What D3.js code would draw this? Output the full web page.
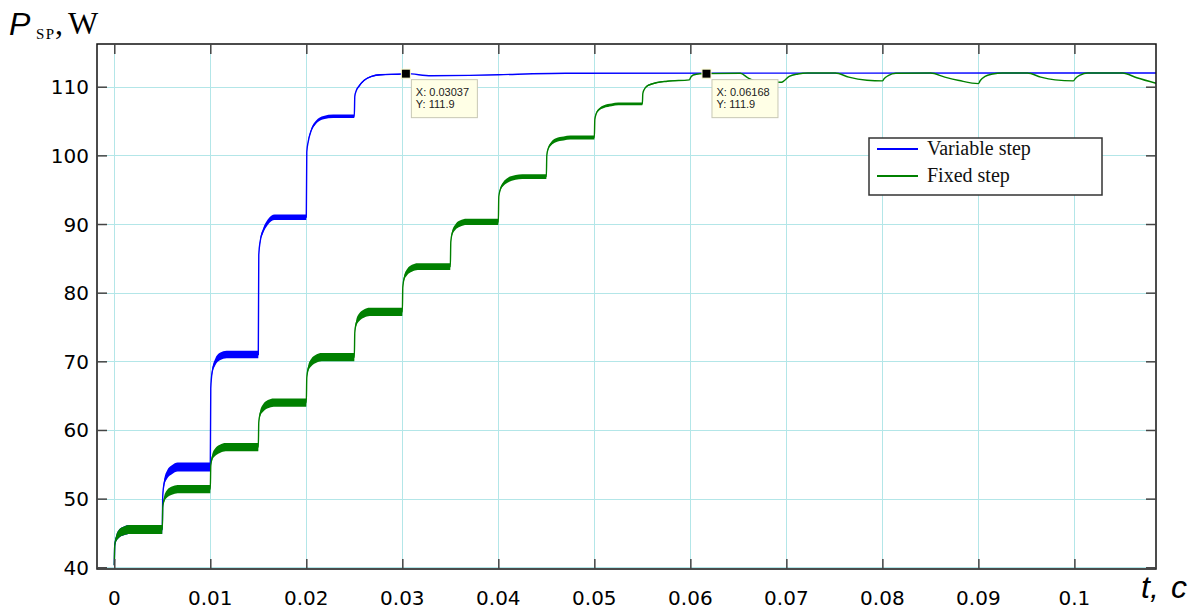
<!DOCTYPE html>
<html>
<head>
<meta charset="utf-8">
<script src="https://cdn.jsdelivr.net/npm/d3@7/dist/d3.min.js"></script>
<style>
  html, body { margin: 0; padding: 0; background: #fff; }
  svg { display: block; }
</style>
</head>
<body>
<svg id="chart" width="1198" height="612"></svg>
<script>
// ---------------- DATA ----------------
const xTicks = [0, 0.01, 0.02, 0.03, 0.04, 0.05, 0.06, 0.07, 0.08, 0.09, 0.1];
const xTickLabels = ["0", "0.01", "0.02", "0.03", "0.04", "0.05", "0.06", "0.07", "0.08", "0.09", "0.1"];
const yTicks = [40, 50, 60, 70, 80, 90, 100, 110];
const yTickLabels = ["40", "50", "60", "70", "80", "90", "100", "110"];
const seriesNames = ["Variable step", "Fixed step"];

// [t (s), P_SP (W), ripple half-width (W)]
const variableStep = [
  [0, 40.3, 0], [0.00005, 43.2, 0], [0.0002, 44.2, 0.45], [0.0005, 44.9, 0.6], [0.001, 45.3, 0.65], [0.0016, 45.5, 0.65], [0.005, 45.5, 0.65],
  [0.00505, 50.5, 0], [0.0052, 52.3, 0.45], [0.0055, 53.5, 0.6], [0.006, 54.2, 0.65], [0.0066, 54.6, 0.65], [0.010, 54.6, 0.65],
  [0.01005, 66.1, 0], [0.0102, 68.5, 0.35], [0.0105, 69.85, 0.5], [0.011, 70.7, 0.55], [0.0117, 71.0, 0.55], [0.015, 71.0, 0.55],
  [0.01505, 85.5, 0], [0.0152, 87.5, 0.25], [0.0155, 89.0, 0.35], [0.016, 90.3, 0.4], [0.0167, 91.0, 0.4], [0.020, 91.0, 0.4],
  [0.02005, 100.5, 0], [0.0202, 102.0, 0.1], [0.0205, 103.6, 0.2], [0.021, 104.8, 0.25], [0.0218, 105.5, 0.25], [0.0228, 105.7, 0.25], [0.025, 105.7, 0.25],
  [0.02505, 108.6, 0], [0.0252, 109.4, 0.05], [0.0255, 110.1, 0.1], [0.026, 110.9, 0.1], [0.0268, 111.5, 0.1], [0.0277, 111.75, 0.1], [0.0300, 111.85, 0.05],
  [0.0304, 111.9, 0], [0.033, 111.6, 0], [0.037, 111.65, 0], [0.040, 111.75, 0], [0.047, 111.95, 0], [0.1085, 112.0, 0]
];

const fixedStep = [
  [0, 40.3, 0], [0.00005, 43.2, 0], [0.0002, 44.2, 0.45], [0.0005, 44.9, 0.6], [0.001, 45.3, 0.65], [0.0016, 45.5, 0.65], [0.005, 45.5, 0.65],
  [0.00505, 48.75, 0], [0.0052, 49.9, 0.4], [0.0055, 50.7, 0.55], [0.006, 51.15, 0.6], [0.0066, 51.4, 0.6], [0.010, 51.4, 0.6],
  [0.01005, 54.75, 0], [0.0102, 56.0, 0.4], [0.0105, 56.75, 0.55], [0.011, 57.25, 0.6], [0.0116, 57.5, 0.6], [0.015, 57.5, 0.6],
  [0.01505, 61.1, 0], [0.0152, 62.4, 0.4], [0.0155, 63.2, 0.55], [0.016, 63.75, 0.6], [0.0166, 64.0, 0.6], [0.020, 64.0, 0.6],
  [0.02005, 67.6, 0], [0.0202, 68.95, 0.4], [0.0205, 69.8, 0.55], [0.021, 70.35, 0.6], [0.0216, 70.6, 0.6], [0.025, 70.6, 0.6],
  [0.02505, 74.2, 0], [0.0252, 75.55, 0.4], [0.0255, 76.4, 0.55], [0.026, 76.95, 0.6], [0.0266, 77.2, 0.6], [0.030, 77.2, 0.6],
  [0.03005, 80.8, 0], [0.0302, 82.15, 0.35], [0.0305, 83.0, 0.45], [0.031, 83.55, 0.5], [0.0316, 83.8, 0.5], [0.035, 83.8, 0.5],
  [0.03505, 87.4, 0], [0.0352, 88.7, 0.3], [0.0355, 89.5, 0.4], [0.036, 90.05, 0.45], [0.0367, 90.3, 0.45], [0.040, 90.3, 0.45],
  [0.04005, 94.0, 0], [0.0402, 95.0, 0.2], [0.0405, 95.8, 0.3], [0.041, 96.4, 0.35], [0.0418, 96.8, 0.35], [0.0425, 96.9, 0.35], [0.045, 96.9, 0.35],
  [0.04505, 100.0, 0], [0.0452, 101.0, 0.15], [0.0455, 101.7, 0.25], [0.046, 102.2, 0.3], [0.0468, 102.45, 0.3], [0.0475, 102.6, 0.3], [0.050, 102.6, 0.3],
  [0.05005, 105.2, 0], [0.0502, 106.1, 0.1], [0.0505, 106.7, 0.15], [0.051, 107.1, 0.2], [0.0518, 107.35, 0.2], [0.0525, 107.5, 0.2], [0.055, 107.5, 0.2],
  [0.05505, 109.0, 0], [0.0552, 109.6, 0.05], [0.0555, 110.1, 0.1], [0.056, 110.4, 0.1], [0.0576, 110.8, 0.05], [0.0599, 111.0, 0],
  [0.06005, 111.4, 0], [0.0603, 111.7, 0], [0.0610, 111.88, 0], [0.0617, 111.9, 0], [0.0652, 111.95, 0],
  [0.0660, 111.3, 0], [0.0668, 110.8, 0], [0.0695, 110.65, 0], [0.0698, 110.9, 0], [0.0703, 111.5, 0], [0.0712, 111.85, 0], [0.0722, 112.0, 0],
  [0.0751, 112.0, 0], [0.0765, 111.4, 0], [0.0784, 110.95, 0], [0.0800, 110.85, 0], [0.0802, 111.2, 0], [0.0806, 111.6, 0], [0.0814, 111.95, 0],
  [0.0850, 112.0, 0], [0.0865, 111.4, 0], [0.0880, 110.9, 0], [0.0900, 110.45, 0], [0.0902, 110.9, 0], [0.0907, 111.5, 0], [0.0915, 111.85, 0], [0.0925, 112.0, 0],
  [0.0951, 112.0, 0], [0.0965, 111.4, 0], [0.0980, 111.0, 0], [0.0999, 110.85, 0], [0.1001, 111.2, 0], [0.1006, 111.7, 0], [0.1014, 112.0, 0],
  [0.1050, 112.0, 0], [0.1065, 111.3, 0], [0.1085, 110.5, 0]
];

// data tips: [t, P]
const dataTips = [[0.03037, 111.9], [0.06168, 111.9]];
const dataTipLabels = [["X: 0.03037", "Y: 111.9"], ["X: 0.06168", "Y: 111.9"]];

// ---------------- CHART ----------------
const svg = d3.select("#chart");
const L = 97, R = 1156, T = 44, B = 569;
const x = d3.scaleLinear().domain([-0.0018, 0.1085]).range([L, R]);
const y = d3.scaleLinear().domain([39.75, 116.22]).range([B, T]);
const gridColor = "#b3e6e8";
const colors = ["#0000ff", "#008000"];

svg.append("rect").attr("width", 1198).attr("height", 612).attr("fill", "#fff");

svg.append("clipPath").attr("id", "plotclip")
  .append("rect").attr("x", L).attr("y", T).attr("width", R - L).attr("height", B - T);

// grid
const grid = svg.append("g");
grid.selectAll("line.vx").data(xTicks).join("line")
  .attr("x1", d => Math.round(x(d)) + 0.5).attr("x2", d => Math.round(x(d)) + 0.5)
  .attr("y1", T).attr("y2", B).attr("stroke", gridColor).attr("stroke-width", 1);
grid.selectAll("line.hy").data(yTicks).join("line")
  .attr("y1", d => Math.round(y(d)) + 0.5).attr("y2", d => Math.round(y(d)) + 0.5)
  .attr("x1", L).attr("x2", R).attr("stroke", gridColor).attr("stroke-width", 1);

// series
const plot = svg.append("g").attr("clip-path", "url(#plotclip)");
const area = d3.area().curve(d3.curveMonotoneX)
  .x(d => x(d[0])).y0(d => y(d[1] - d[2])).y1(d => y(d[1] + d[2]));
const line = d3.line().curve(d3.curveMonotoneX)
  .x(d => x(d[0])).y(d => y(d[1]));

[variableStep, fixedStep].forEach((s, i) => {
  plot.append("path").datum(s).attr("d", area).attr("fill", colors[i]).attr("stroke", "none");
  plot.append("path").datum(s).attr("d", line).attr("fill", "none")
    .attr("stroke", colors[i]).attr("stroke-width", 1.4);
});

// frame
svg.append("rect").attr("x", L).attr("y", T).attr("width", R - L).attr("height", B - T)
  .attr("fill", "none").attr("stroke", "#111").attr("stroke-width", 1.5);

// axes (ticks inward, top/bottom/left/right)
const tickLen = 10;
const axB = d3.axisBottom(x).tickValues(xTicks).tickSize(-tickLen).tickFormat("");
const axT = d3.axisTop(x).tickValues(xTicks).tickSize(-tickLen).tickFormat("");
const axL = d3.axisLeft(y).tickValues(yTicks).tickSize(-tickLen).tickFormat("");
const axR = d3.axisRight(y).tickValues(yTicks).tickSize(-tickLen).tickFormat("");
[[axB, `translate(0,${B})`], [axT, `translate(0,${T})`], [axL, `translate(${L},0)`], [axR, `translate(${R},0)`]]
  .forEach(([ax, tr]) => {
    const g = svg.append("g").attr("transform", tr).call(ax);
    g.select(".domain").remove();
    g.selectAll(".tick line").attr("stroke", "#444").attr("stroke-width", 1.5);
  });

// tick labels
svg.append("g").selectAll("text").data(xTicks).join("text")
  .attr("x", d => x(d)).attr("y", 605).attr("text-anchor", "middle")
  .attr("font-family", "DejaVu Sans, Verdana, sans-serif").attr("font-size", 20).attr("fill", "#000")
  .text((d, i) => xTickLabels[i]);
svg.append("g").selectAll("text").data(yTicks).join("text")
  .attr("x", 89).attr("y", d => y(d) + 7.5).attr("text-anchor", "end")
  .attr("font-family", "DejaVu Sans, Verdana, sans-serif").attr("font-size", 20).attr("fill", "#000")
  .text((d, i) => yTickLabels[i]);

// axis titles
svg.append("text").attr("x", 9).attr("y", 35)
  .attr("font-family", "Liberation Sans, Arial, sans-serif").attr("font-style", "italic")
  .attr("font-size", 32).text("P");
svg.append("text").attr("x", 36).attr("y", 39)
  .attr("font-family", "Liberation Serif, Times New Roman, serif")
  .attr("font-size", 15).attr("letter-spacing", 1.5).text("SP");
svg.append("text").attr("x", 55).attr("y", 34)
  .attr("font-family", "Liberation Serif, Times New Roman, serif")
  .attr("font-size", 32).text(",");
svg.append("text").attr("x", 68).attr("y", 34)
  .attr("font-family", "Liberation Serif, Times New Roman, serif")
  .attr("font-size", 32).text("W");
svg.append("text").attr("x", 1141).attr("y", 598)
  .attr("font-family", "Liberation Sans, Arial, sans-serif").attr("font-style", "italic")
  .attr("font-size", 32).text("t,");
svg.append("text").attr("x", 1171).attr("y", 598)
  .attr("font-family", "Liberation Sans, Arial, sans-serif").attr("font-style", "italic")
  .attr("font-size", 32).text("c");

// data tips
dataTips.forEach((d, i) => {
  const px = x(d[0]), py = y(d[1]);
  const g = svg.append("g");
  g.append("rect").attr("x", px - 4.5).attr("y", py - 4.5).attr("width", 9).attr("height", 9)
    .attr("fill", "#000").attr("stroke", "#ffffd0").attr("stroke-width", 1);
  g.append("rect").attr("x", px + 5.5).attr("y", py + 6).attr("width", 66).attr("height", 38)
    .attr("fill", "#ffffe6").attr("stroke", "#c8c8b4").attr("stroke-width", 1);
  dataTipLabels[i].forEach((t, j) => {
    g.append("text").attr("x", px + 10).attr("y", py + 22 + j * 12.5)
      .attr("font-family", "Liberation Sans, Arial, sans-serif").attr("font-size", 11)
      .attr("fill", "#222").text(t);
  });
});

// legend
const lg = svg.append("g");
lg.append("rect").attr("x", 869).attr("y", 138).attr("width", 233).attr("height", 57)
  .attr("fill", "#fff").attr("stroke", "#333").attr("stroke-width", 1.5);
seriesNames.forEach((n, i) => {
  const yy = 149 + i * 27;
  lg.append("line").attr("x1", 877).attr("x2", 918).attr("y1", yy).attr("y2", yy)
    .attr("stroke", colors[i]).attr("stroke-width", 2);
  lg.append("text").attr("x", 927).attr("y", yy + 5.5)
    .attr("font-family", "Liberation Serif, Times New Roman, serif").attr("font-size", 20)
    .attr("fill", "#111").text(n);
});
</script>
</body>
</html>
